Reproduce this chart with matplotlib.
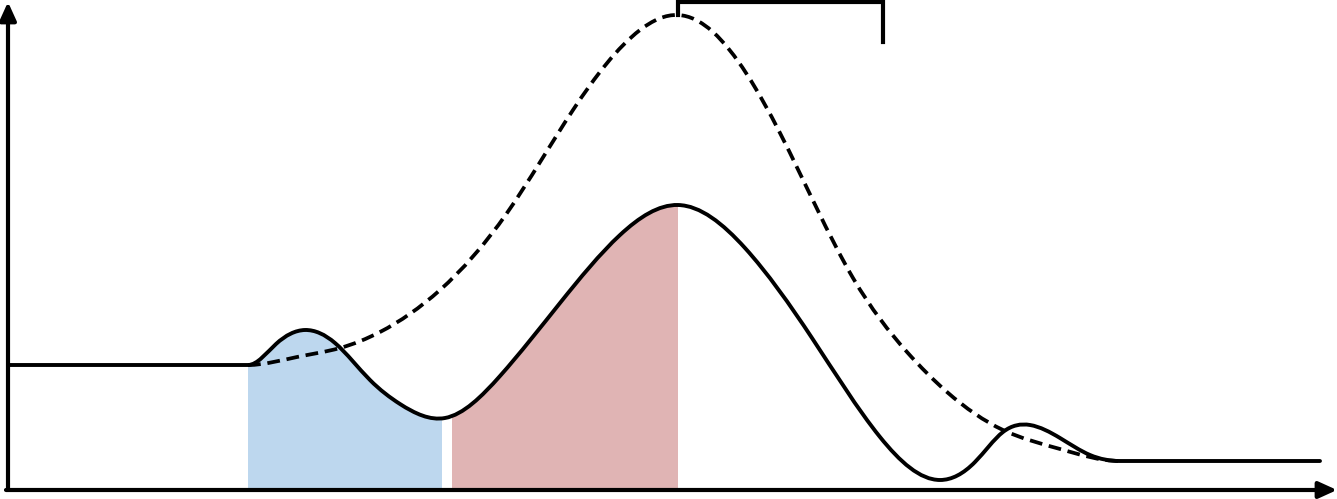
import numpy as np
import matplotlib
matplotlib.use("Agg")
import matplotlib.pyplot as plt
from matplotlib.path import Path
from matplotlib.patches import PathPatch, Rectangle

# solid curve (x, height), pixel-like units (y grows downward);
# first and last points are the ends of the flat stretches
solid_x = [10, 248, 276, 305, 335, 370, 400, 445, 500, 560, 620, 678, 745, 812, 880,
           940, 975, 1003, 1030, 1060, 1090, 1120, 1320]
solid_y = [365, 365, 344, 330, 343, 380, 404, 418, 376, 303, 235, 205, 248, 338, 437,
           480, 462, 432, 425, 438, 455, 461, 461]

# dashed curve
dash_x = [248, 297, 340, 380, 440, 507, 573, 640, 678, 713, 780, 853, 907, 947, 1003,
          1060, 1120]
dash_y = [365, 357, 348, 332, 290, 213, 110, 30, 15, 32, 133, 278, 352, 392, 430,
          449, 461]

# shaded spans under the solid curve
blue_span = (248, 442)
red_span = (452, 678)
baseline = 490

# bracket at the top
bracket_x = [678, 678, 883, 883]
bracket_y = [15, 2, 2, 42]


def spline_path(xs, ys):
    """Clamped (flat-ended) C2 cubic spline through the points, as Bezier segments."""
    x = np.asarray(xs, float)
    y = np.asarray(ys, float)
    n = len(x)
    h = np.diff(x)
    d = np.diff(y) / h
    A = np.zeros((n, n))
    b = np.zeros(n)
    A[0, 0] = A[-1, -1] = 1.0
    for i in range(1, n - 1):
        A[i, i - 1] = h[i]
        A[i, i] = 2 * (h[i - 1] + h[i])
        A[i, i + 1] = h[i - 1]
        b[i] = 3 * (h[i] * d[i - 1] + h[i - 1] * d[i])
    m = np.linalg.solve(A, b)
    verts, codes = [(x[0], y[0])], [Path.MOVETO]
    for i in range(n - 1):
        k = h[i] / 3
        verts += [(x[i] + k, y[i] + m[i] * k), (x[i + 1] - k, y[i + 1] - m[i + 1] * k),
                  (x[i + 1], y[i + 1])]
        codes += [Path.CURVE4] * 3
    return verts, codes


fig = plt.figure(figsize=(13.37, 4.99), dpi=100)
ax = fig.add_axes([0, 0, 1, 1])
ax.set_xlim(0, 1337)
ax.set_ylim(499, 0)
ax.axis("off")

cv, cc = spline_path(solid_x[1:-1], solid_y[1:-1])
sv = [(solid_x[0], solid_y[0])] + cv + [(solid_x[-1], solid_y[-1])]
sc = [Path.MOVETO, Path.LINETO] + cc[1:] + [Path.LINETO]
dv, dc = spline_path(dash_x, dash_y)

# region below the solid curve, used to clip the coloured spans
under_v = sv + [(solid_x[-1], baseline), (solid_x[0], baseline), (0, 0)]
under_c = sc + [Path.LINETO, Path.LINETO, Path.CLOSEPOLY]
under = PathPatch(Path(under_v, under_c), transform=ax.transData, visible=False)
ax.add_patch(under)

for (x0, x1), col in [(blue_span, "#bdd7ee"), (red_span, "#e0b4b4")]:
    r = Rectangle((x0, 150), x1 - x0, baseline - 150, color=col, lw=0, zorder=1)
    ax.add_patch(r)
    r.set_clip_path(under)

ax.add_patch(PathPatch(Path(sv, sc), fill=False, ec="black", lw=2.8,
                       capstyle="round", zorder=3))
ax.add_patch(PathPatch(Path(dv, dc), fill=False, ec="black", lw=2.7,
                       ls=(0, (3.4, 1.8)), zorder=3))
ax.plot(bracket_x, bracket_y, color="black", lw=3, solid_joinstyle="miter", zorder=3)

# axes with arrowheads
arrow = dict(arrowstyle="-|>,head_length=1.1,head_width=0.5", color="black", lw=3,
             shrinkA=0, shrinkB=0)
ax.annotate("", xy=(8, 2), xytext=(8, baseline), arrowprops=arrow, zorder=4)
ax.annotate("", xy=(1337, baseline), xytext=(6, baseline), arrowprops=arrow, zorder=4)

fig.savefig("out.png", dpi=100)
